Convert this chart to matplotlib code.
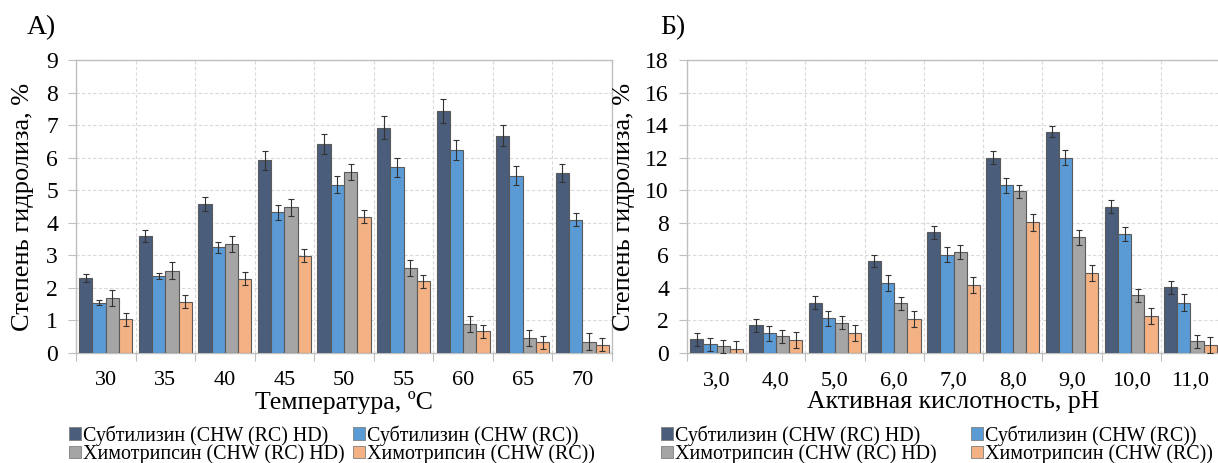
import matplotlib
matplotlib.use("Agg")
import matplotlib.pyplot as plt
import numpy as np
from matplotlib.patches import Patch

plt.rcParams['font.family'] = ['Liberation Serif', 'DejaVu Serif']

series_names = [
    "Субтилизин (CHW (RC) HD)",
    "Субтилизин (CHW (RC))",
    "Химотрипсин (CHW (RC) HD)",
    "Химотрипсин (CHW (RC))",
]
series_colors = ["#4A5D7A", "#5B9BD5", "#A5A5A5", "#F4B183"]

# Panel A: temperature dependence
temp_labels = ["30", "35", "40", "45", "50", "55", "60", "65", "70"]
temp_subt_hd = [2.30, 3.60, 4.58, 5.92, 6.42, 6.92, 7.43, 6.68, 5.52]
temp_subt = [1.55, 2.37, 3.25, 4.32, 5.17, 5.70, 6.23, 5.45, 4.10]
temp_chym_hd = [1.68, 2.53, 3.35, 4.47, 5.55, 2.62, 0.88, 0.47, 0.35]
temp_chym = [1.03, 1.57, 2.28, 2.98, 4.18, 2.20, 0.67, 0.33, 0.25]
temp_err_subt_hd = [0.12, 0.18, 0.22, 0.30, 0.32, 0.35, 0.37, 0.33, 0.28]
temp_err_subt = [0.07, 0.10, 0.17, 0.22, 0.27, 0.30, 0.30, 0.30, 0.20]
temp_err_chym_hd = [0.25, 0.25, 0.25, 0.27, 0.25, 0.25, 0.25, 0.25, 0.25]
temp_err_chym = [0.20, 0.20, 0.20, 0.20, 0.20, 0.20, 0.20, 0.20, 0.20]

# Panel B: pH dependence
ph_labels = ["3,0", "4,0", "5,0", "6,0", "7,0", "8,0", "9,0", "10,0", "11,0"]
ph_subt_hd = [0.85, 1.70, 3.08, 5.65, 7.42, 12.00, 13.60, 9.00, 4.05]
ph_subt = [0.55, 1.20, 2.12, 4.30, 6.05, 10.30, 12.00, 7.30, 3.10]
ph_chym_hd = [0.42, 1.02, 1.85, 3.05, 6.20, 9.95, 7.10, 3.55, 0.72]
ph_chym = [0.22, 0.80, 1.22, 2.08, 4.18, 8.02, 4.90, 2.28, 0.50]
ph_err_subt_hd = [0.40, 0.40, 0.40, 0.35, 0.40, 0.40, 0.35, 0.40, 0.40]
ph_err_subt = [0.40, 0.45, 0.45, 0.50, 0.45, 0.45, 0.45, 0.45, 0.50]
ph_err_chym_hd = [0.40, 0.40, 0.40, 0.40, 0.45, 0.40, 0.45, 0.40, 0.40]
ph_err_chym = [0.50, 0.50, 0.50, 0.50, 0.50, 0.50, 0.50, 0.50, 0.50]

GRID = "#D9D9D9"
FRAME = "#BFBFBF"


def draw_panel(ax, labels, values, errors, ymax, ystep, xlabel):
    n = len(labels)
    x = np.arange(n)
    w = 0.223
    for k, (vals, errs) in enumerate(zip(values, errors)):
        ax.bar(x + (k - 1.5) * w, vals, width=w, color=series_colors[k],
               edgecolor="#5A5A5A", linewidth=0.8, zorder=3,
               yerr=errs, error_kw=dict(ecolor="#333333", elinewidth=0.8,
                                        capsize=2.2, capthick=0.8, zorder=4))
    ax.set_xlim(-0.5, n - 0.5)
    ax.set_ylim(0, ymax)
    ax.set_yticks(np.arange(0, ymax + 0.01, ystep))
    ax.set_xticks(x)
    ax.set_xticklabels(labels)
    ax.set_xticks(np.arange(-0.5, n, 1.0), minor=True)
    ax.tick_params(axis="x", which="major", length=0, pad=13, labelsize=16)
    ax.tick_params(axis="x", which="minor", length=6, color=FRAME, width=0.8)
    ax.tick_params(axis="y", length=6, color=FRAME, width=0.8, pad=7, labelsize=17)
    ax.grid(True, axis="y", which="major", color=GRID, linestyle=(0, (3, 2)), linewidth=0.8, zorder=0)
    ax.grid(True, axis="x", which="minor", color=GRID, linestyle=(0, (3, 2)), linewidth=0.8, zorder=0)
    for s in ax.spines.values():
        s.set_color(FRAME)
        s.set_linewidth(1.0)
    ax.set_xlabel(xlabel, fontsize=18.5, labelpad=1)
    ax.set_ylabel("Степень гидролиза, %", fontsize=19)


fig = plt.figure(figsize=(12.18, 4.63), dpi=100)
W, H = 1218, 463
axA = fig.add_axes([76 / W, (H - 353) / H, (612 - 76) / W, (353 - 60) / H])
axB = fig.add_axes([687 / W, (H - 353) / H, (1220 - 687) / W, (353 - 60) / H])

draw_panel(axA, temp_labels,
           [temp_subt_hd, temp_subt, temp_chym_hd, temp_chym],
           [temp_err_subt_hd, temp_err_subt, temp_err_chym_hd, temp_err_chym],
           9, 1, "Температура, ºC")
draw_panel(axB, ph_labels,
           [ph_subt_hd, ph_subt, ph_chym_hd, ph_chym],
           [ph_err_subt_hd, ph_err_subt, ph_err_chym_hd, ph_err_chym],
           18, 2, "Активная кислотность, pH")

axA.yaxis.set_label_coords(-0.078, 0.5)
axB.yaxis.set_label_coords(-0.098, 0.5)

# legend entries ordered so that the two columns read row by row
order = [0, 2, 1, 3]
handles = [Patch(facecolor=series_colors[i], edgecolor="#7F7F7F", linewidth=0.6) for i in order]
names = [series_names[i] for i in order]
leg_kw = dict(ncol=2, frameon=False, fontsize=14.4, handlelength=0.6, handleheight=0.6,
              handletextpad=0.12, labelspacing=-0.06, borderpad=0, borderaxespad=0,
              loc="upper left")
fig.legend(handles, names, bbox_to_anchor=(69 / W, 1 - 425 / H),
           columnspacing=0.4, **leg_kw)
fig.legend(handles, names, bbox_to_anchor=(661 / W, 1 - 425 / H),
           columnspacing=1.7, **leg_kw)

fig.text(41 / W, 1 - 28 / H, "А)", fontsize=20, ha="center", va="center")
fig.text(673 / W, 1 - 28 / H, "Б)", fontsize=20, ha="center", va="center")

fig.savefig("out.png", dpi=100)
